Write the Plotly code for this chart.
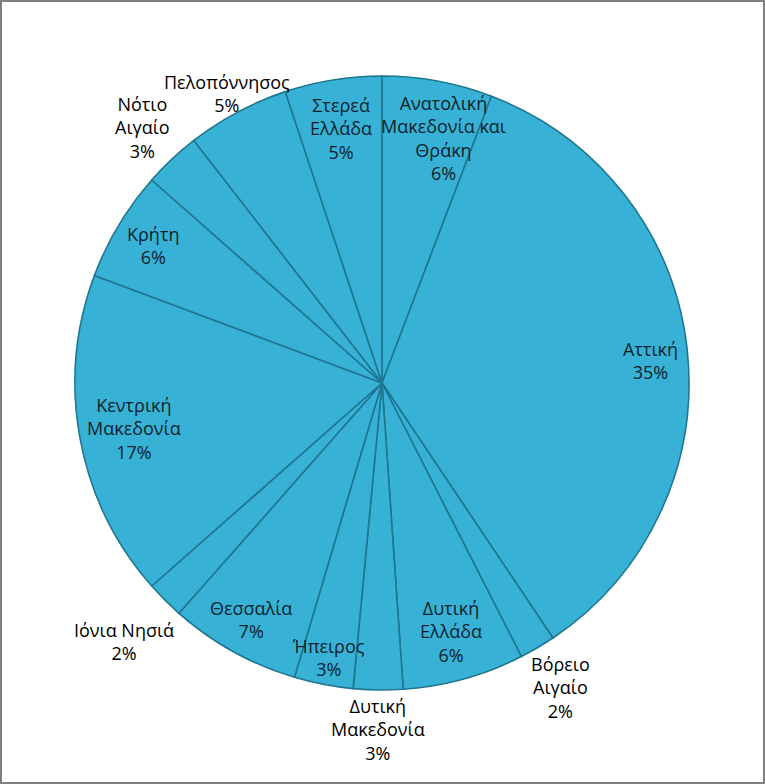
import math
import plotly.graph_objects as go

# ---- data ----
regions = ["Ανατολική Μακεδονία και Θράκη", "Αττική", "Βόρειο Αιγαίο", "Δυτική Ελλάδα",
           "Δυτική Μακεδονία", "Ήπειρος", "Θεσσαλία", "Ιόνια Νησιά", "Κεντρική Μακεδονία",
           "Κρήτη", "Νότιο Αιγαίο", "Πελοπόννησος", "Στερεά Ελλάδα"]
label_lines = ["Ανατολική<br>Μακεδονία και<br>Θράκη", "Αττική", "Βόρειο<br>Αιγαίο", "Δυτική<br>Ελλάδα",
               "Δυτική<br>Μακεδονία", "Ήπειρος", "Θεσσαλία", "Ιόνια Νησιά", "Κεντρική<br>Μακεδονία",
               "Κρήτη", "Νότιο<br>Αιγαίο", "Πελοπόννησος", "Στερεά<br>Ελλάδα"]
shares = [5.8, 34.8, 1.9, 6.4, 2.6, 3.1, 6.9, 2.0, 17.2, 5.8, 3.0, 5.4, 5.1]

# ---- layout / style ----
W, H = 765, 784
CX, CY, R = 382, 383, 307          # pie centre and radius in pixels
label_radius = [0.81, 0.88, 1.15, 0.84, 1.13, 0.91, 0.88, 1.19, 0.82, 0.87, 1.14, 1.07, 0.84]
label_xshift = [16, 0, 0, 0, 0, 0, 0, 0, 0, 0, 0, 0, 0]
label_yshift = [0, -8, 0, 0, 0, 0, 0, 0, 0, 0, 0, 0, 0]
FONT = "Open Sans"
FONT_SIZE = 18
SLICE_COLOR = "#37b2d6"
EDGE_COLOR = "#1f7690"

fig = go.Figure(go.Pie(
    labels=regions,
    values=shares,
    sort=False,
    direction="clockwise",
    rotation=0,
    textinfo="none",
    hoverinfo="label+percent",
    marker=dict(colors=[SLICE_COLOR] * len(regions), line=dict(color=EDGE_COLOR, width=1.6)),
    domain=dict(x=[(CX - R) / W, (CX + R) / W], y=[(H - CY - R) / H, (H - CY + R) / H]),
    showlegend=False,
))

total = sum(shares)
cum = 0.0
annotations = []
for name, val, f, xs, ys in zip(label_lines, shares, label_radius, label_xshift, label_yshift):
    mid = (cum + val / 2) / total * 2 * math.pi
    cum += val
    px = CX + f * R * math.sin(mid)
    py = CY - f * R * math.cos(mid)
    pct = round(val / total * 100)
    inside = f < 1
    annotations.append(dict(
        x=px / W, y=1 - py / H, xref="paper", yref="paper",
        text=f"{name}<br>{pct}%", showarrow=False, xanchor="center", yanchor="middle",
        xshift=xs, yshift=ys,
        font=dict(family=FONT, size=FONT_SIZE, color="#0d1f2c" if inside else "#000000"),
    ))

fig.update_layout(
    width=W, height=H,
    margin=dict(l=0, r=0, t=0, b=0),
    paper_bgcolor="white",
    plot_bgcolor="white",
    annotations=annotations,
    shapes=[dict(type="rect", xref="paper", yref="paper",
                 x0=1 / W, x1=1 - 1 / W, y0=1 / H, y1=1 - 1 / H,
                 line=dict(color="#7f7f7f", width=2))],
)

fig.write_html("out.html",
               config={"displayModeBar": False},
               post_script="document.body.style.margin='0';document.body.style.overflow='hidden';")
